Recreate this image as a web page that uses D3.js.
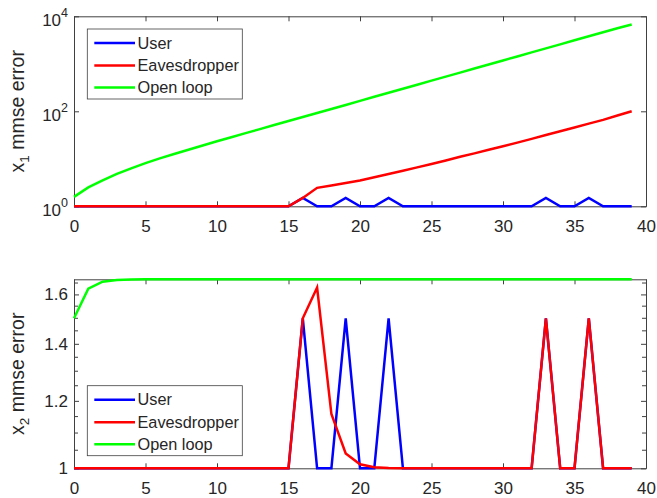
<!DOCTYPE html>
<html>
<head>
<meta charset="utf-8">
<script src="https://cdn.jsdelivr.net/npm/d3@7"></script>
<style>
  body { margin: 0; background: #fff; }
  text { font-family: "Liberation Sans", Arial, sans-serif; fill: #262626; }
</style>
</head>
<body>
<svg id="chart" width="657" height="498"></svg>
<script>
// time steps
var steps = [0,1,2,3,4,5,6,7,8,9,10,11,12,13,14,15,16,17,18,19,
             20,21,22,23,24,25,26,27,28,29,30,31,32,33,34,35,36,37,38,39];

// x1 mmse error (top panel)
var x1User = [1,1,1,1,1,1,1,1,1,1,1,1,1,1,1,1,1.5,1,1,1.5,
              1,1,1.5,1,1,1,1,1,1,1,1,1,1,1.5,1,1,1.5,1,1,1];
var x1Eve  = [1,1,1,1,1,1,1,1,1,1,1,1,1,1,1,1,1.5,2.45,2.75,3.1,
              3.5,4.1,4.8,5.6,6.6,7.8,9.2,11.0,13.0,15.5,18.4,21.9,26.3,31.6,38.0,45.7,55.0,66.1,81.3,100];
var x1Open = [1.58,2.5,3.5,4.8,6.3,8.1,10.2,12.6,15.5,19.1,23.4,28.5,34.7,42.2,51.3,62.4,75.9,92.3,112,136,
              166,202,245,299,363,442,537,653,794,966,1175,1429,1738,2113,2570,3126,3802,4624,5623,6700];

// x2 mmse error (bottom panel)
var x2User = [1,1,1,1,1,1,1,1,1,1,1,1,1,1,1,1,1.5,1,1,1.5,
              1,1,1.5,1,1,1,1,1,1,1,1,1,1,1.5,1,1,1.5,1,1,1];
var x2Eve  = [1,1,1,1,1,1,1,1,1,1,1,1,1,1,1,1,1.5,1.63,1.158,1.041,
              1.011,1.003,1.001,1,1,1,1,1,1,1,1,1,1,1.5,1,1,1.5,1,1,1];
var x2Open = [1.5,1.625,1.656,1.664,1.666,1.6667,1.6667,1.6667,1.6667,1.6667,1.6667,1.6667,1.6667,1.6667,1.6667,1.6667,1.6667,1.6667,1.6667,1.6667,
              1.6667,1.6667,1.6667,1.6667,1.6667,1.6667,1.6667,1.6667,1.6667,1.6667,1.6667,1.6667,1.6667,1.6667,1.6667,1.6667,1.6667,1.6667,1.6667,1.6667];

var seriesNames = ["User", "Eavesdropper", "Open loop"];
var seriesColors = ["#0000ff", "#ff0000", "#00ff00"];
var xTicks = [0,5,10,15,20,25,30,35,40];
var topYTicks = [1, 100, 10000];
var botYTicks = [1, 1.2, 1.4, 1.6];
var botMinor = [1.05,1.1,1.15,1.25,1.3,1.35,1.45,1.5,1.55,1.65];

var svg = d3.select("#chart");
var axisColor = "#404040";

var left = 74, right = 646;
var xScale = d3.scaleLinear().domain([0, 40]).range([left, right]);

function drawPanel(top, bottom, yScale, series, yTicks, minor, label, sub, legendTop) {
    var g = svg.append("g");

    var line = d3.line()
        .x(function(d, i) { return xScale(steps[i]); })
        .y(function(d) { return yScale(d); });

    // box + ticks
    g.append("g").attr("transform", "translate(0," + bottom + ")")
        .call(d3.axisBottom(xScale).tickValues(xTicks).tickSizeInner(-5).tickSizeOuter(0).tickPadding(13.5));
    g.append("g").attr("transform", "translate(0," + top + ")")
        .call(d3.axisTop(xScale).tickValues(xTicks).tickSizeInner(-5).tickSizeOuter(0).tickFormat(""));
    var yl = g.append("g").attr("transform", "translate(" + left + ",0)")
        .call(d3.axisLeft(yScale).tickValues(yTicks).tickSizeInner(-5).tickSizeOuter(0).tickPadding(6));
    g.append("g").attr("transform", "translate(" + right + ",0)")
        .call(d3.axisRight(yScale).tickValues(yTicks).tickSizeInner(-5).tickSizeOuter(0).tickFormat(""));

    if (minor) {
        [[left, 4], [right, -4]].forEach(function(s) {
            g.append("g").selectAll("line").data(minor).enter().append("line")
                .attr("x1", s[0]).attr("x2", s[0] + s[1])
                .attr("y1", function(d) { return yScale(d); })
                .attr("y2", function(d) { return yScale(d); })
                .attr("stroke", axisColor);
        });
    }

    g.selectAll(".domain, .tick line").attr("stroke", axisColor);
    g.selectAll(".tick text").attr("font-size", 17).attr("fill", "#262626")
        .style("font-family", "Liberation Sans, Arial, sans-serif");

    if (!minor) {
        // 10^k labels
        yl.selectAll(".tick text").each(function(d) {
            var t = d3.select(this);
            var e = Math.round(Math.log10(d));
            t.text(null).attr("y", 9.6).attr("dy", null);
            t.append("tspan").text("10");
            t.append("tspan").attr("dy", -9.6).attr("font-size", 12.5).text(e);
        });
    } else {
        yl.selectAll(".tick text").text(function(d) { return d3.format("")(d); });
    }

    series.forEach(function(s, k) {
        g.append("path").datum(s)
            .attr("fill", "none")
            .attr("stroke", seriesColors[k])
            .attr("stroke-width", 2.5)
            .attr("d", line);
    });

    // y label
    var lab = g.append("text")
        .attr("transform", "translate(23.5," + ((top + bottom) / 2) + ") rotate(-90)")
        .attr("text-anchor", "middle")
        .attr("font-size", 19.5);
    lab.append("tspan").text("x");
    lab.append("tspan").attr("font-size", 13.5).attr("dy", 5).text(sub);
    lab.append("tspan").attr("dy", -5).text(" " + label);

    // legend
    var lg = g.append("g");
    lg.append("rect")
        .attr("x", 87.3).attr("y", legendTop)
        .attr("width", 155).attr("height", 70)
        .attr("fill", "#fff").attr("stroke", axisColor).attr("stroke-width", 0.8);
    var rows = [14, 36.5, 58.5];
    seriesNames.forEach(function(n, k) {
        var yy = legendTop + rows[k];
        lg.append("line").attr("x1", 94.3).attr("x2", 135)
            .attr("y1", yy).attr("y2", yy)
            .attr("stroke", seriesColors[k]).attr("stroke-width", 2.5);
        lg.append("text").attr("x", 137.5).attr("y", yy).attr("dy", "0.35em")
            .attr("font-size", 16.3).text(n);
    });
}

var yTop = d3.scaleLog().domain([1, 10000]).range([206.3, 16.3]);
var yBot = d3.scaleLog().domain([1, 1.6667]).range([468.3, 279.3]);

drawPanel(16.3, 206.3, yTop, [x1User, x1Eve, x1Open], topYTicks, null, "mmse error", "1", 29);
drawPanel(279.3, 468.3, yBot, [x2User, x2Eve, x2Open], botYTicks, botMinor, "mmse error", "2", 385.7);
</script>
</body>
</html>
